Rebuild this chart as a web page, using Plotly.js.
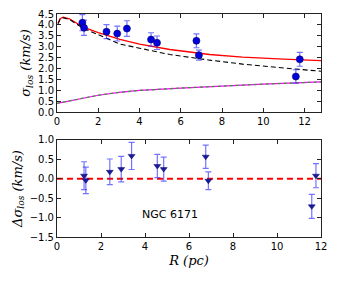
<!DOCTYPE html>
<html><head><meta charset="utf-8">
<script src="https://cdn.plot.ly/plotly-3.0.1.min.js"></script>
<style>html,body{margin:0;padding:0;background:#fff;}#chart{width:337px;height:281px;}</style>
</head><body><div id="chart"></div>
<script>
// Observed data
var R = [1.23, 1.31, 2.40, 2.92, 3.39, 4.56, 4.85, 6.76, 6.88, 11.58, 11.77];
var sigma = [4.10, 3.87, 3.69, 3.60, 3.83, 3.33, 3.18, 3.27, 2.61, 1.63, 2.42];
var sigmaErr = [0.37, 0.35, 0.32, 0.34, 0.36, 0.31, 0.31, 0.32, 0.23, 0.31, 0.32];
// Residuals
var dSigma = [0.08, -0.04, 0.18, 0.25, 0.59, 0.33, 0.25, 0.57, -0.05, -0.71, 0.08];
var dSigmaErr = [0.36, 0.34, 0.33, 0.33, 0.35, 0.30, 0.31, 0.30, 0.23, 0.31, 0.31];
// Model curves
var modelR = [0.05, 0.15, 0.3, 0.6, 1.0, 1.27, 2.0, 3.05, 4.0, 5.47, 7.4, 9.0, 11.0, 12.8];
var modelTotal = [4.07, 4.28, 4.35, 4.28, 4.05, 3.90, 3.65, 3.33, 3.12, 2.87, 2.64, 2.52, 2.43, 2.36];
var modelStars = [4.05, 4.26, 4.33, 4.25, 4.01, 3.85, 3.55, 3.12, 2.93, 2.64, 2.38, 2.20, 2.02, 1.87];
var dmR = [0, 0.5, 1, 2, 3, 4, 6, 8, 10, 12.8];
var modelDM = [0.40, 0.50, 0.60, 0.77, 0.90, 0.99, 1.10, 1.20, 1.28, 1.38];
var zeroR = [0, 12];
var zeroV = [0, 0];

var traces = [
  {x: modelR, y: modelTotal, mode: 'lines', line: {color: 'red', width: 1.3}, xaxis: 'x', yaxis: 'y'},
  {x: modelR, y: modelStars, mode: 'lines', line: {color: 'black', width: 1.1, dash: '5px,3px'}, xaxis: 'x', yaxis: 'y'},
  {x: dmR, y: modelDM, mode: 'lines', line: {color: 'magenta', width: 1.2}, xaxis: 'x', yaxis: 'y'},
  {x: dmR, y: modelDM, mode: 'lines', line: {color: '#3a9a3a', width: 1.3, dash: '3px,3px'}, xaxis: 'x', yaxis: 'y'},
  {x: R, y: sigma, mode: 'markers', marker: {color: '#0000dd', size: 7, line: {color: '#000066', width: 0.6}},
   error_y: {type: 'data', array: sigmaErr, color: 'rgba(40,40,255,0.65)', thickness: 1.2, width: 3}, xaxis: 'x', yaxis: 'y'},
  {x: zeroR, y: zeroV, mode: 'lines', line: {color: 'red', width: 2, dash: '6px,4px'}, xaxis: 'x2', yaxis: 'y2'},
  {x: R, y: dSigma, mode: 'markers', marker: {symbol: 'triangle-down', color: '#1a1aa0', size: 6, line: {color: '#000066', width: 0.5}},
   error_y: {type: 'data', array: dSigmaErr, color: 'rgba(40,40,255,0.65)', thickness: 1.2, width: 3}, xaxis: 'x2', yaxis: 'y2'}
];

var tickFont = {family: 'DejaVu Sans, sans-serif', size: 10, color: '#000'};
var axCommon = {showgrid: false, zeroline: false, showline: true, linecolor: '#222', linewidth: 1, mirror: 'ticks',
  ticks: 'inside', ticklen: 4, tickcolor: '#222', tickfont: tickFont};

var layout = {
  width: 337, height: 281,
  margin: {l: 57, r: 16, t: 14, b: 44},
  paper_bgcolor: '#fff', plot_bgcolor: '#fff',
  showlegend: false,
  xaxis: Object.assign({}, axCommon, {domain: [0, 1], anchor: 'y', range: [0, 12.8], tickvals: [0, 2, 4, 6, 8, 10, 12], ticktext: ['0','2','4','6','8','10','12']}),
  yaxis: Object.assign({}, axCommon, {domain: [0.5605, 1], anchor: 'x', range: [0, 4.5], tickvals: [0,0.5,1,1.5,2,2.5,3,3.5,4,4.5], ticktext: ['0.0','0.5','1.0','1.5','2.0','2.5','3.0','3.5','4.0','4.5'],
    title: {text: '<i>σ</i><sub><i>los</i></sub> <i>(km/s)</i>', font: {family: 'DejaVu Serif, serif', size: 13, color: '#000'}, standoff: 4}}),
  xaxis2: Object.assign({}, axCommon, {domain: [0, 1], anchor: 'y2', range: [0, 12], tickvals: [0, 2, 4, 6, 8, 10, 12], ticktext: ['0','2','4','6','8','10','12'],
    title: {text: '<i>R (pc)</i>', font: {family: 'DejaVu Serif, serif', size: 13, color: '#000'}, standoff: 4}}),
  yaxis2: Object.assign({}, axCommon, {domain: [0, 0.435], anchor: 'x2', range: [-1.5, 1.0], tickvals: [-1.5,-1,-0.5,0,0.5,1], ticktext: ['\u22121.5','\u22121.0','\u22120.5','0.0','0.5','1.0'],
    title: {text: '<i>Δσ</i><sub><i>los</i></sub> <i>(km/s)</i>', font: {family: 'DejaVu Serif, serif', size: 13, color: '#000'}, standoff: 4}}),
  annotations: [{x: 5.13, y: -0.92, xref: 'x2', yref: 'y2', text: 'NGC 6171', showarrow: false,
    font: {family: 'DejaVu Sans, sans-serif', size: 11, color: '#000'}}]
};

Plotly.newPlot('chart', traces, layout, {displayModeBar: false, staticPlot: true});
</script></body></html>
